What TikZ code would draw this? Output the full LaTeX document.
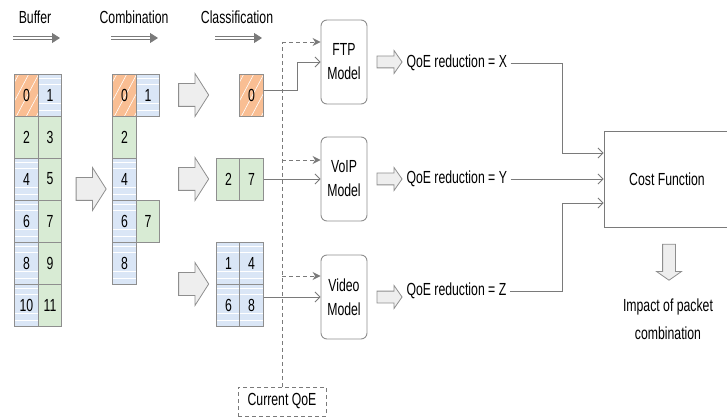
\documentclass[tikz,border=0pt]{standalone}
\usepackage{fontspec}
\setmainfont{Liberation Sans}[FakeStretch=0.70]
\usetikzlibrary{shapes.arrows,arrows.meta,calc}

\definecolor{pktorange}{HTML}{F9BE93}
\definecolor{pktblue}{HTML}{DAE6F6}
\definecolor{pktgreen}{HTML}{D8EBD4}
\definecolor{edgegray}{HTML}{8E8E8E}
\definecolor{linegray}{HTML}{7A7A7A}
\definecolor{arrowfill}{HTML}{EEEEEE}

\tikzset{
  cell/.style={rectangle,draw=edgegray,line width=0.9pt,minimum width=23.5pt,minimum height=42pt,inner sep=0pt},
  ocell/.style={cell,fill=pktorange,path picture={
      \foreach \k in {-60,-50,...,30}
        \draw[white,line width=0.6pt] ([xshift=\k pt]path picture bounding box.south) -- ++(62:60pt);}},
  bcell/.style={cell,fill=pktblue,path picture={
      \foreach \f in {0.1,0.24,0.7,0.86}
        \draw[white,line width=1pt]
          ($(path picture bounding box.north west)!\f!(path picture bounding box.south west)$) --
          ($(path picture bounding box.north east)!\f!(path picture bounding box.south east)$);}},
  gcell/.style={cell,fill=pktgreen},
  hollow/.style={single arrow,draw=edgegray,line width=0.8pt,fill=arrowfill,single arrow head indent=0pt},
  bigarrow/.style={hollow,inner sep=11pt,minimum height=29pt,minimum width=42pt,single arrow head extend=10pt,single arrow tip angle=115},
  smallarrow/.style={hollow,inner sep=5.5pt,minimum height=25pt,minimum width=22pt,single arrow head extend=5.5pt,single arrow tip angle=110},
  model/.style={rectangle,rounded corners=6pt,draw=edgegray,line width=0.9pt,minimum width=46pt,minimum height=84pt,
      align=center,inner sep=1pt,font=\fontsize{17.5pt}{24pt}\selectfont},
  conn/.style={draw=linegray,line width=0.9pt,-{Straight Barb[length=5pt,width=10pt]}},
  dline/.style={draw=linegray,line width=0.9pt,dash pattern=on 4pt off 3pt},
  dconn/.style={dline,-{Stealth[length=8pt,width=8pt]}},
  dblarrow/.style={draw=linegray,double=white,double distance=2.2pt,line width=0.9pt,-{Triangle[length=8pt,width=10pt]}},
}

\begin{document}
\begin{tikzpicture}[x=1pt,y=-1pt,font=\fontsize{17.5pt}{20pt}\selectfont]
\useasboundingbox (0,0) rectangle (727,419);

% stage titles
\node (hbuf) at (35,17) {Buffer};
\node (hcomb) at (134,17) {Combination};
\node (hclass) at (237,17) {Classification};
\draw[dblarrow] (13,38) -- (60,38);
\draw[dblarrow] (111,38) -- (158,38);
\draw[dblarrow] (215,38) -- (262,38);

% buffer
\node (b0) at (26.5,95) [ocell] {0};
\node (b1) at (50,95) [bcell] {1};
\node (b2) at (26.5,137) [gcell] {2};
\node (b3) at (50,137) [gcell] {3};
\node (b4) at (26.5,179) [bcell] {4};
\node (b5) at (50,179) [gcell] {5};
\node (b6) at (26.5,221) [bcell] {6};
\node (b7) at (50,221) [gcell] {7};
\node (b8) at (26.5,263) [bcell] {8};
\node (b9) at (50,263) [gcell] {9};
\node (b10) at (26.5,305) [bcell] {10};
\node (b11) at (50,305) [gcell] {11};

\node (a1) at (87.5,189) [bigarrow] {};

% combination
\node (c0) at (124.5,95) [ocell] {0};
\node (c1) at (148,95) [bcell] {1};
\node (c2) at (124.5,137) [gcell] {2};
\node (c4) at (124.5,179) [bcell] {4};
\node (c6) at (124.5,221) [bcell] {6};
\node (c7) at (148,221) [gcell] {7};
\node (c8) at (124.5,263) [bcell] {8};

\node (a2) at (190,95) [bigarrow] {};
\node (a3) at (190,179) [bigarrow] {};
\node (a4) at (190,284) [bigarrow] {};

% classification
\node (k0) at (251.5,95) [ocell] {0};
\node (k2) at (228.5,179) [gcell] {2};
\node (k7) at (251.5,179) [gcell] {7};
\node (k1) at (228.5,263) [bcell] {1};
\node (k4) at (251.5,263) [bcell] {4};
\node (k6) at (228.5,305) [bcell] {6};
\node (k8) at (251.5,305) [bcell] {8};

% models
\node (ftp) at (344,62) [model] {FTP\\Model};
\node (voip) at (344,179) [model] {VoIP\\Model};
\node (video) at (344,297) [model] {Video\\Model};

\node (qoe) at (282,401.5) [rectangle,draw=linegray,line width=0.9pt,dash pattern=on 4pt off 3pt,minimum width=88pt,minimum height=29pt] {Current QoE};

\coordinate (ftpin) at ([yshift=20pt]ftp.west);
\coordinate (voipin) at ([yshift=19pt]voip.west);
\coordinate (videoin) at ([yshift=21pt]video.west);
\draw[dline] (qoe.north) -- (qoe.north |- ftpin);
\draw[dconn] (qoe.north |- ftpin) -- (ftpin);
\draw[dconn] (qoe.north |- voipin) -- (voipin);
\draw[dconn] (qoe.north |- videoin) -- (videoin);

\draw[conn] ([yshift=5pt]k0.east) -- ++(34,0) |- (ftp.west);
\draw[conn] (k7.east) -- (voip.west);
\draw[conn] (k8.east |- video.west) -- (video.west);

% QoE reduction
\node (s1) at (387.5,62) [smallarrow] {};
\node (s2) at (387.5,179) [smallarrow] {};
\node (s3) at (387.5,297) [smallarrow] {};
\node (qx) at (403,63) [anchor=west] {QoE reduction = X};
\node (qy) at (403,179) [anchor=west] {QoE reduction = Y};
\node (qz) at (403,291) [anchor=west] {QoE reduction = Z};

\node (cost) at (667,179) [rectangle,draw=linegray,line width=0.9pt,minimum width=126pt,minimum height=96pt] {Cost Function};
\draw[conn] (qx.east) -- (562,63) |- ([yshift=26pt]cost.west);
\draw[conn] (qy.east) -- (qy.east -| cost.west);
\draw[conn] (qz.east) -- (562,291) |- ([yshift=-24pt]cost.west);

\node (s4) at (669,260) [smallarrow,shape border rotate=270,minimum height=36pt,minimum width=24pt,inner sep=6pt,single arrow head extend=6pt] {};
\node (impact) at (668,319) [align=center,font=\fontsize{17.5pt}{28pt}\selectfont] {Impact of packet\\combination};
\end{tikzpicture}
\end{document}
